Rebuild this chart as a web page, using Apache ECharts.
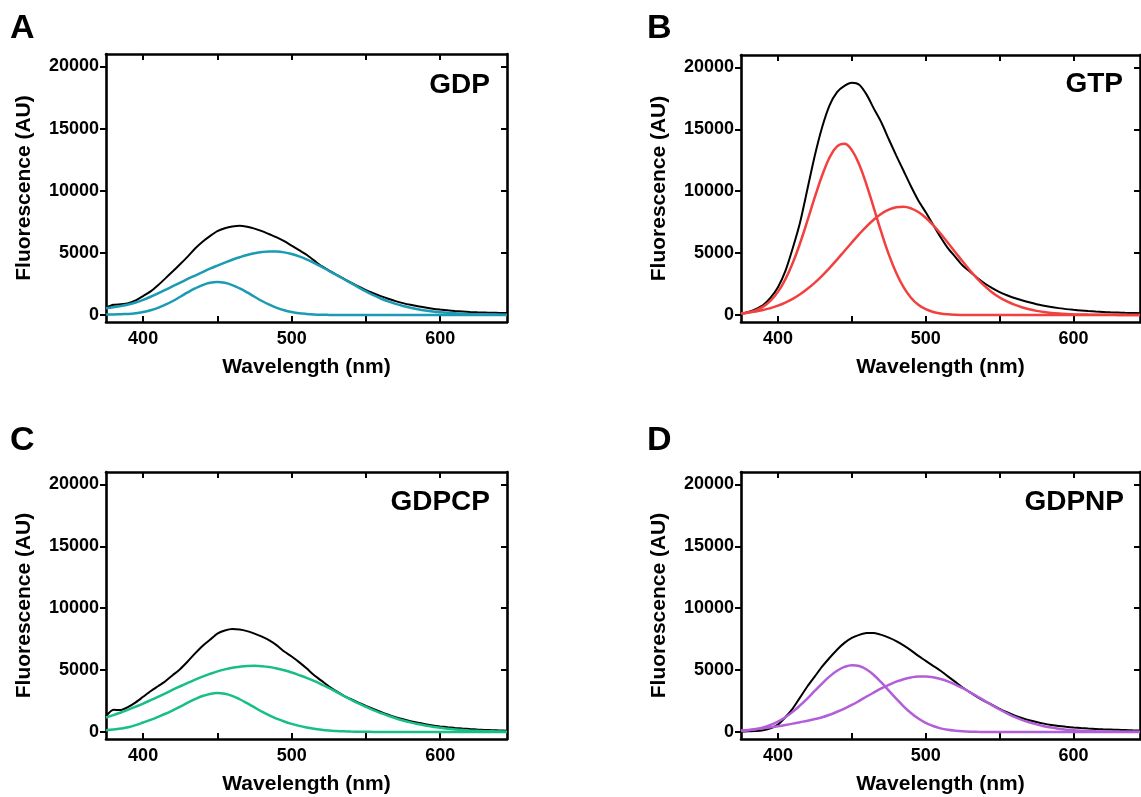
<!DOCTYPE html>
<html>
<head>
<meta charset="utf-8">
<script src="https://cdn.jsdelivr.net/npm/echarts@6/dist/echarts.min.js"></script>
<style>
html,body{margin:0;padding:0;background:#ffffff;}
#chart{width:1141px;height:797px;}
</style>
</head>
<body>
<div id="chart"></div>
<script>
// ---------- data ----------
const wavelengths = [375,380,385,390,395,400,405,410,415,420,425,430,435,440,445,450,455,460,465,470,475,480,485,490,495,500,505,510,515,520,525,530,535,540,545,550,555,560,565,570,575,580,585,590,595,600,605,610,615,620,625,630,635,640,645];
const xTickValues = [400,450,500,550,600];
const xLabelValues = [400,500,600];
const yTickValues = [0,5000,10000,15000,20000];

const panelLetters = ['A','B','C','D'];
const panelNames = ['GDP','GTP','GDPCP','GDPNP'];
const panelColors = ['#1b9ab4','#f2403f','#17bf84','#b35ed9'];

// A: GDP
const gdpTotal = [600,820,870,960,1180,1530,1900,2400,2950,3520,4100,4700,5350,5900,6350,6750,6980,7120,7180,7100,6950,6750,6500,6250,5950,5580,5220,4850,4400,3950,3600,3260,2930,2600,2300,2000,1750,1520,1310,1120,960,820,700,600,510,440,380,330,290,250,220,200,180,170,160];
const gdpComp1 = [40,50,70,90,150,250,390,580,830,1130,1470,1820,2140,2410,2590,2650,2590,2410,2140,1820,1470,1130,830,580,390,250,150,90,50,26,13,6,3,1,0,0,0,0,0,0,0,0,0,0,0,0,0,0,0,0,0,0,0,0,0];
const gdpComp2 = [540,630,730,850,1010,1220,1470,1740,2030,2320,2610,2900,3180,3460,3730,3980,4220,4450,4650,4830,4970,5070,5120,5110,5040,4910,4720,4480,4200,3890,3560,3230,2900,2570,2230,1900,1600,1330,1100,900,730,590,470,370,290,225,175,135,105,80,62,48,38,30,25];

// B: GTP
const gtpTotal = [100,250,480,800,1400,2250,3550,5400,7500,10200,12900,15200,16950,18000,18500,18750,18600,17800,16650,15550,14200,12900,11650,10400,9250,8300,7300,6300,5400,4700,4000,3500,3000,2550,2180,1860,1600,1380,1200,1030,880,760,650,560,480,420,370,320,280,250,220,200,180,165,150];
const gtpComp1 = [100,200,380,680,1160,1870,2880,4200,5810,7640,9540,11310,12740,13620,13840,13320,12150,10500,8600,6670,4900,3410,2250,1400,830,470,250,125,60,27,12,5,2,1,0,0,0,0,0,0,0,0,0,0,0,0,0,0,0,0,0,0,0,0,0];
const gtpComp2 = [140,210,290,410,560,760,1010,1310,1680,2120,2620,3190,3810,4480,5170,5860,6540,7170,7720,8180,8510,8700,8750,8620,8320,7860,7270,6590,5840,5080,4320,3600,2930,2340,1830,1420,1100,840,630,465,340,245,175,125,90,65,48,36,28,22,18,15,12,10,9];

// C: GDPCP
const gdpcpTotal = [1270,1800,1780,2030,2400,2850,3300,3700,4100,4600,5100,5700,6350,6950,7450,7950,8200,8320,8280,8150,7950,7700,7400,7000,6500,6100,5650,5150,4600,4150,3700,3300,2950,2650,2370,2110,1860,1620,1400,1200,1030,880,750,640,540,460,390,330,280,240,205,175,150,130,115];
const gdpcpComp1 = [140,200,280,390,560,770,990,1230,1480,1760,2060,2370,2660,2910,3080,3150,3090,2920,2650,2330,1990,1650,1340,1080,850,660,500,370,270,190,130,90,60,40,28,20,15,10,8,6,5,4,4,3,3,3,2,2,2,2,2,2,2,2,2];
const gdpcpComp2 = [1180,1370,1580,1810,2050,2300,2570,2850,3130,3420,3700,3970,4230,4480,4700,4900,5060,5190,5280,5340,5350,5320,5250,5140,4990,4810,4600,4380,4130,3860,3560,3240,2920,2610,2310,2030,1770,1540,1320,1120,940,780,645,525,425,340,270,212,165,128,98,75,57,43,33];

// D: GDPNP
const gdpnpTotal = [50,60,80,150,300,600,1200,1900,2800,3700,4500,5300,6000,6650,7200,7600,7850,8000,8000,7850,7620,7350,7000,6600,6150,5750,5350,4950,4500,4050,3600,3200,2820,2480,2200,1880,1600,1350,1140,960,810,680,575,490,425,370,320,280,250,220,200,180,160,140,130];
const gdpnpComp1 = [90,150,240,380,580,850,1200,1630,2150,2720,3340,3940,4500,4950,5260,5400,5330,5050,4590,4010,3350,2700,2080,1540,1090,740,490,300,180,110,60,31,16,8,4,2,1,0,0,0,0,0,0,0,0,0,0,0,0,0,0,0,0,0,0];
const gdpnpComp2 = [120,170,230,300,380,470,570,680,800,920,1050,1200,1400,1640,1900,2190,2520,2870,3200,3520,3810,4070,4270,4410,4490,4490,4430,4290,4090,3840,3540,3210,2870,2520,2160,1820,1510,1230,990,790,620,475,360,270,195,140,100,72,56,46,38,33,29,27,26];

const totals = [gdpTotal, gtpTotal, gdpcpTotal, gdpnpTotal];
const comps = [[gdpComp1, gdpComp2],[gtpComp1, gtpComp2],[gdpcpComp1, gdpcpComp2],[gdpnpComp1, gdpnpComp2]];

// ---------- layout ----------
const FONT = '"Liberation Sans", Arial, Helvetica, sans-serif';
const grids = [
  {left:106, top:54, width:401, height:268},
  {left:741, top:55, width:399, height:267},
  {left:106, top:472, width:401, height:267},
  {left:741, top:472, width:399, height:267}
];
const letterPos = [[10,29],[647,29],[10,441],[647,441]];
const namePos = [[490,85],[1123,84],[490,502],[1124,502]];

const lineStyleAxis = {color:'#000', width:2.6};
const xAxes = [], yAxes = [], series = [], graphics = [];

grids.forEach((g, i) => {
  xAxes.push({
    type:'value', gridIndex:i, position:'bottom', min:375, max:645,
    axisLine:{show:true, onZero:false, lineStyle:lineStyleAxis},
    axisTick:{show:true, inside:true, length:6, customValues:xTickValues, lineStyle:{color:'#000', width:2}},
    axisLabel:{show:true, customValues:xLabelValues, formatter:v => String(v), color:'#000', fontSize:18, fontWeight:'bold', fontFamily:FONT, margin:8},
    splitLine:{show:false},
    name:'Wavelength (nm)', nameLocation:'middle', nameGap:35,
    nameTextStyle:{color:'#000', fontSize:21, fontWeight:'bold', fontFamily:FONT}
  });
  xAxes.push({
    type:'value', gridIndex:i, position:'top', min:375, max:645,
    axisLine:{show:true, onZero:false, lineStyle:lineStyleAxis},
    axisTick:{show:true, inside:true, length:6, customValues:xTickValues, lineStyle:{color:'#000', width:2}},
    axisLabel:{show:false}, splitLine:{show:false}
  });
  yAxes.push({
    type:'value', gridIndex:i, position:'left', min:-560, max:21000,
    axisLine:{show:true, onZero:false, lineStyle:lineStyleAxis},
    axisTick:{show:true, inside:false, length:6, customValues:yTickValues, lineStyle:{color:'#000', width:2}},
    axisLabel:{show:true, customValues:yTickValues, formatter:v => String(v), color:'#000', fontSize:18, fontWeight:'bold', fontFamily:FONT, margin:7},
    splitLine:{show:false},
    name:'Fluorescence (AU)', nameLocation:'middle', nameGap:71, nameRotate:90,
    nameTextStyle:{color:'#000', fontSize:21, fontWeight:'bold', fontFamily:FONT}
  });
  yAxes.push({
    type:'value', gridIndex:i, position:'right', min:-560, max:21000,
    axisLine:{show:true, onZero:false, lineStyle:lineStyleAxis},
    axisTick:{show:true, inside:true, length:6, customValues:yTickValues, lineStyle:{color:'#000', width:2}},
    axisLabel:{show:false}, splitLine:{show:false}
  });

  series.push({
    type:'line', name:panelNames[i] + ' total', xAxisIndex:2*i, yAxisIndex:2*i,
    data: wavelengths.map((w,k) => [w, totals[i][k]]),
    showSymbol:false, symbol:'none', smooth:0.25, lineStyle:{color:'#000', width:2}, z:2
  });
  comps[i].forEach((c, j) => {
    series.push({
      type:'line', name:panelNames[i] + ' component ' + (j+1), xAxisIndex:2*i, yAxisIndex:2*i,
      data: wavelengths.map((w,k) => [w, c[k]]),
      showSymbol:false, symbol:'none', smooth:0.4,
      lineStyle:{color:panelColors[i], width:2.5}, z:3
    });
  });

  graphics.push({
    type:'text', left:letterPos[i][0], top:letterPos[i][1] - 17,
    style:{text:panelLetters[i], font:'bold 34px ' + FONT, fill:'#000'}
  });
  graphics.push({
    type:'text', right:1141 - namePos[i][0], top:namePos[i][1] - 14,
    style:{text:panelNames[i], font:'bold 28px ' + FONT, fill:'#000'}
  });
});

const chart = echarts.init(document.getElementById('chart'));
chart.setOption({
  animation:false,
  backgroundColor:'#ffffff',
  grid: grids.map(g => Object.assign({containLabel:false}, g)),
  xAxis: xAxes,
  yAxis: yAxes,
  series: series,
  graphic: graphics
});
</script>
</body>
</html>
